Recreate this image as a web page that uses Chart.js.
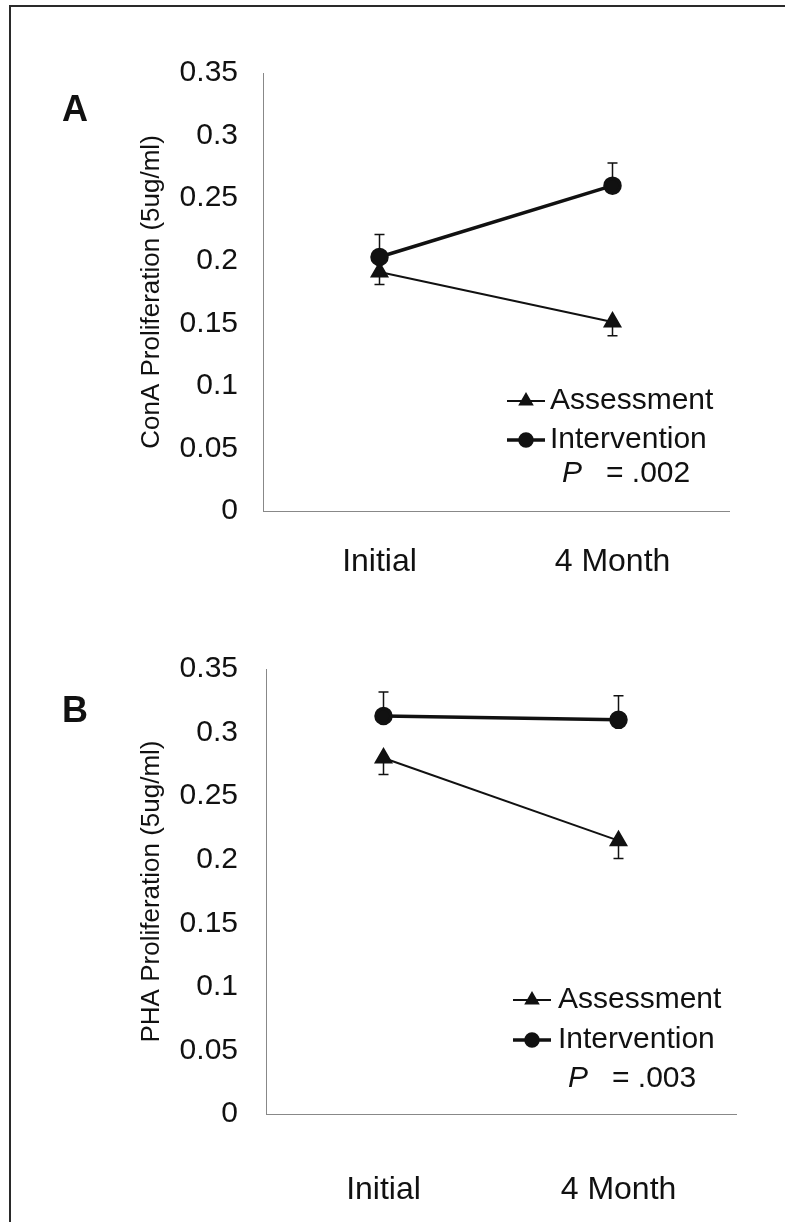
<!DOCTYPE html>
<html>
<head>
<meta charset="utf-8">
<script src="https://cdn.jsdelivr.net/npm/chart.js@4.4.1/dist/chart.umd.min.js"></script>
<style>
  html, body { margin: 0; padding: 0; background: #fff; }
  #page { position: relative; width: 785px; height: 1222px; overflow: hidden; }
  #frame { position: absolute; left: 9px; top: 5px; width: 800px; height: 1300px; border: 2px solid #2a2a2a; }
  .panel { position: absolute; left: 0; width: 785px; height: 611px; }
</style>
</head>
<body>
<div id="page">
  <div id="frame"></div>
  <div class="panel" style="top:0"><canvas id="chartA" width="785" height="611"></canvas></div>
  <div class="panel" style="top:611px"><canvas id="chartB" width="785" height="611"></canvas></div>
</div>
<script>
const timeLabels = ['Initial', '4 Month'];
const yTickLabels = ['0', '0.05', '0.1', '0.15', '0.2', '0.25', '0.3', '0.35'];
const seriesNames = ['Assessment', 'Intervention'];

const conaAssessment = [0.191, 0.151];
const conaAssessmentErr = [0.010, 0.011];
const conaIntervention = [0.203, 0.260];
const conaInterventionErr = [0.018, 0.018];

const phaAssessment = [0.280, 0.215];
const phaAssessmentErr = [0.013, 0.014];
const phaIntervention = [0.313, 0.310];
const phaInterventionErr = [0.019, 0.019];

const pValues = ['.002', '.003'];

const FONT = '"Liberation Sans", Arial, sans-serif';
Chart.defaults.font.family = FONT;
Chart.defaults.color = '#111';

// one-sided error bars: assessment goes down, intervention goes up
const errorBars = {
    id: 'errorBars',
    beforeDatasetsDraw(chart) {
        const ctx = chart.ctx;
        const y = chart.scales.y;
        chart.data.datasets.forEach((ds, i) => {
            const meta = chart.getDatasetMeta(i);
            meta.data.forEach((pt, j) => {
                const v = ds.data[j];
                const y0 = y.getPixelForValue(v);
                const y1 = y.getPixelForValue(v + ds.errors[j] * ds.errorDir);
                ctx.save();
                ctx.strokeStyle = '#111';
                ctx.lineWidth = 1.5;
                ctx.beginPath();
                ctx.moveTo(pt.x, y0);
                ctx.lineTo(pt.x, y1);
                ctx.moveTo(pt.x - 5, y1);
                ctx.lineTo(pt.x + 5, y1);
                ctx.stroke();
                ctx.restore();
            });
        });
    }
};

// panel letter + in-plot legend + P value
const panelDecor = {
    id: 'panelDecor',
    afterDraw(chart, args, o) {
        const ctx = chart.ctx;
        ctx.save();
        ctx.fillStyle = '#111';
        ctx.strokeStyle = '#111';
        ctx.font = 'bold 36px ' + FONT;
        ctx.textAlign = 'center';
        ctx.textBaseline = 'middle';
        ctx.fillText(o.letter, o.letterX, o.letterY);

        ctx.font = '30px ' + FONT;
        ctx.textAlign = 'left';
        chart.data.datasets.forEach((ds, i) => {
            const yy = o.rowY[i];
            ctx.lineWidth = ds.borderWidth;
            ctx.beginPath();
            ctx.moveTo(o.x, yy);
            ctx.lineTo(o.x + 38, yy);
            ctx.stroke();
            Chart.helpers.drawPoint(ctx, {
                pointStyle: ds.pointStyle,
                radius: ds.pointStyle === 'triangle' ? 7 : 6,
                borderWidth: 1,
                rotation: 0
            }, o.x + 19, yy);
            ctx.fillText(ds.label, o.x + o.textGap, yy);
        });
        ctx.font = 'italic 30px ' + FONT;
        ctx.fillText('P', o.pX, o.rowY[2]);
        ctx.font = '30px ' + FONT;
        ctx.fillText('= ' + o.pValue, o.pX + 44, o.rowY[2]);
        ctx.restore();
    }
};

function makePanel(id, cfg) {
    return new Chart(document.getElementById(id), {
        type: 'line',
        data: {
            labels: timeLabels,
            datasets: [{
                label: seriesNames[0],
                data: cfg.assess,
                errors: cfg.assessErr,
                errorDir: -1,
                borderColor: '#111',
                backgroundColor: '#111',
                borderWidth: 2,
                pointStyle: 'triangle',
                pointRadius: 9,
                pointHoverRadius: 9,
                tension: 0
            }, {
                label: seriesNames[1],
                data: cfg.interv,
                errors: cfg.intervErr,
                errorDir: 1,
                borderColor: '#111',
                backgroundColor: '#111',
                borderWidth: 3.5,
                pointStyle: 'circle',
                pointRadius: 7.5,
                pointHoverRadius: 7.5,
                tension: 0
            }]
        },
        options: {
            responsive: false,
            animation: false,
            layout: {padding: {left: 0, top: cfg.top, right: cfg.right, bottom: 0}},
            plugins: {
                legend: {display: false},
                tooltip: {enabled: false},
                panelDecor: cfg.decor
            },
            scales: {
                x: {
                    offset: true,
                    grid: {display: false, drawTicks: false, offset: true},
                    border: {color: '#888', width: 1},
                    ticks: {padding: cfg.xPad, font: {size: 32}, color: '#111'},
                    afterFit: s => { s.height = cfg.xHeight; }
                },
                y: {
                    min: 0,
                    max: 0.35,
                    grid: {display: false, drawTicks: false},
                    border: {color: '#888', width: 1},
                    ticks: {
                        stepSize: 0.05,
                        padding: cfg.yPad,
                        font: {size: 30},
                        color: '#111',
                        callback: (v, i) => yTickLabels[i]
                    },
                    title: {
                        display: true,
                        text: cfg.title,
                        font: {size: 26},
                        color: '#111',
                        padding: {top: 136, bottom: 0}
                    },
                    afterFit: s => { s.width = cfg.yWidth; }
                }
            }
        },
        plugins: [errorBars, panelDecor]
    });
}

makePanel('chartA', {
    assess: conaAssessment, assessErr: conaAssessmentErr,
    interv: conaIntervention, intervErr: conaInterventionErr,
    title: 'ConA Proliferation (5ug/ml)',
    top: 73, right: 56, yWidth: 263, yPad: 25, xHeight: 100, xPad: 32,
    decor: {letter: 'A', letterX: 75, letterY: 111, x: 507, textGap: 43,
        rowY: [401, 440, 474], pX: 562, pValue: pValues[0]}
});

makePanel('chartB', {
    assess: phaAssessment, assessErr: phaAssessmentErr,
    interv: phaIntervention, intervErr: phaInterventionErr,
    title: 'PHA Proliferation (5ug/ml)',
    top: 58, right: 49, yWidth: 266, yPad: 28, xHeight: 108, xPad: 57,
    decor: {letter: 'B', letterX: 75, letterY: 101, x: 513, textGap: 45,
        rowY: [389, 429, 468], pX: 568, pValue: pValues[1]}
});
</script>
</body>
</html>
